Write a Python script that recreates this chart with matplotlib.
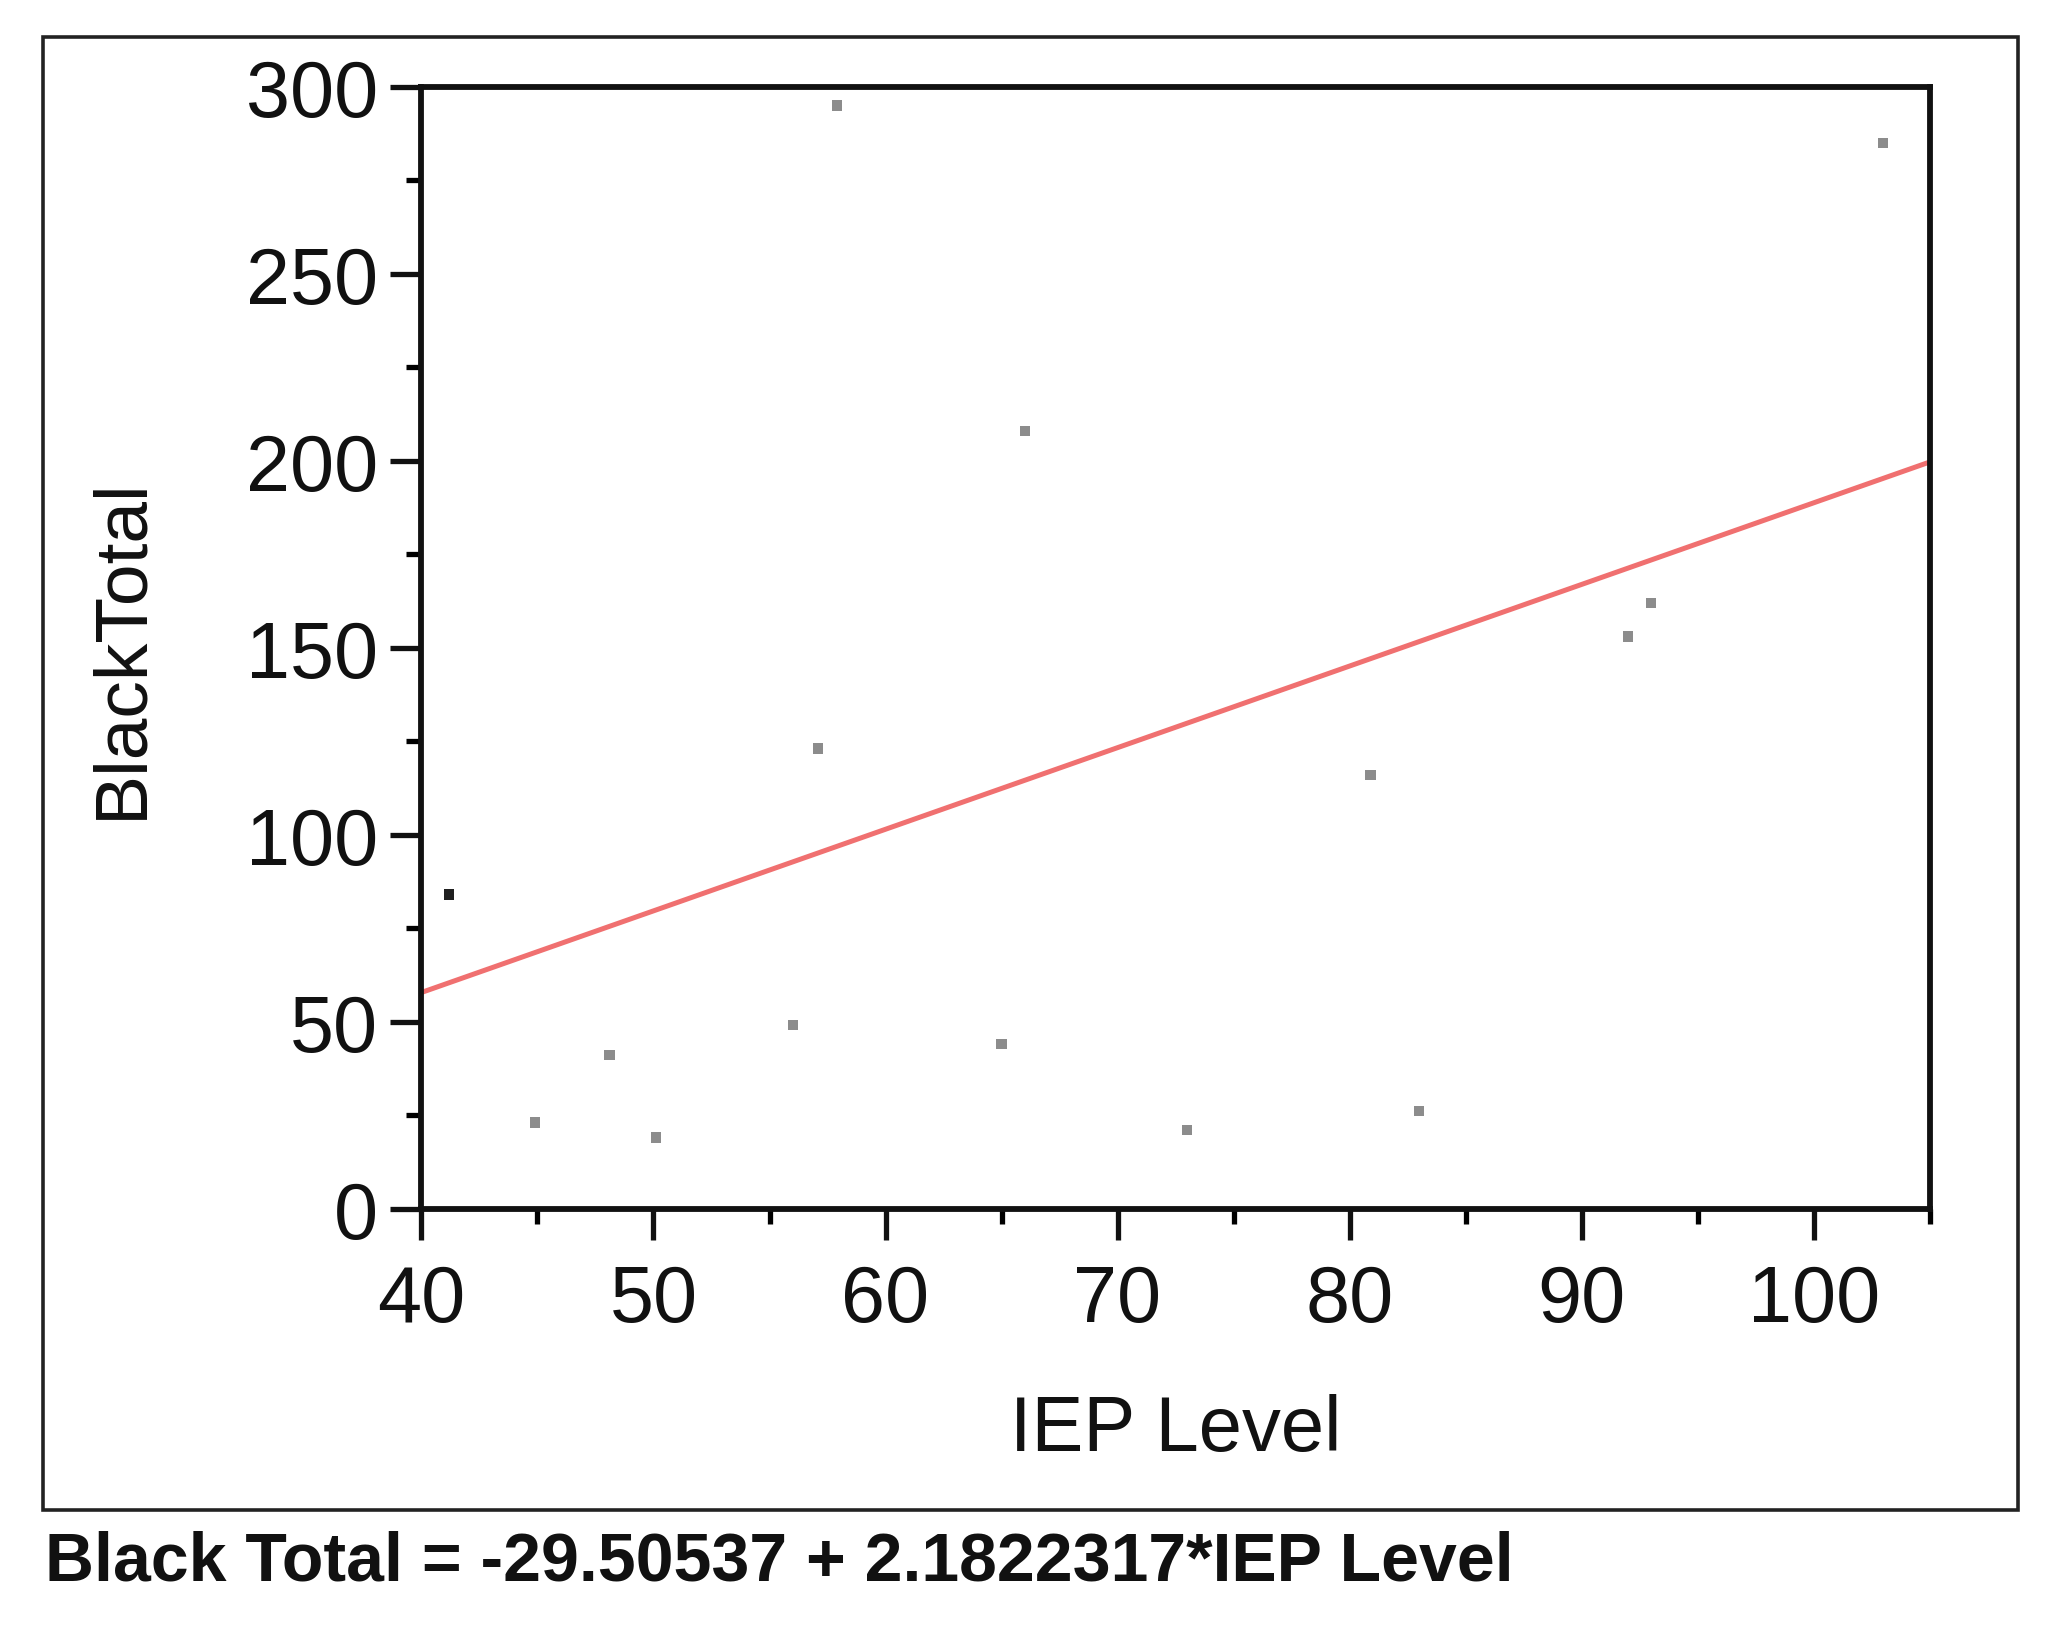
import numpy as np
import matplotlib
matplotlib.use("Agg")
import matplotlib.pyplot as plt
from matplotlib.patches import Rectangle

plt.rcParams['font.family'] = ['Liberation Sans', 'DejaVu Sans']

# data
iep_level = [41.2, 44.9, 48.1, 50.1, 56.0, 57.1, 57.9, 65.0, 66.0, 73.0, 80.9, 83.0, 92.0, 93.0, 103.0]
black_total = [84, 23, 41, 19, 49, 123, 295, 44, 208, 21, 116, 26, 153, 162, 285]
point_colors = ['#202020'] + ['#8c8c8c'] * 14

# fitted line
intercept = -29.50537
slope = 2.1822317

fig = plt.figure(figsize=(20.66, 16.33), dpi=100)
ax = fig.add_axes([0.204, 0.2593, 0.730, 0.687])

ax.scatter(iep_level, black_total, s=55, marker='s', c=point_colors, linewidths=0, zorder=3)

xfit = np.array([40, 105])
ax.plot(xfit, intercept + slope * xfit, color='#f07070', lw=3.6, zorder=2)

ax.set_xlim(40, 105)
ax.set_ylim(0, 300)
ax.set_xticks([40, 50, 60, 70, 80, 90, 100])
ax.set_xticks([45, 55, 65, 75, 85, 95, 105], minor=True)
ax.set_yticks([0, 50, 100, 150, 200, 250, 300])
ax.set_yticks([25, 75, 125, 175, 225, 275], minor=True)

ax.tick_params(which='major', length=22, width=3.8, labelsize=57, colors='#111111')
ax.tick_params(which='minor', length=11, width=3.8)
ax.tick_params(axis='x', which='major', pad=17)
ax.tick_params(axis='y', which='major', pad=9)
for sp in ax.spines.values():
    sp.set_linewidth(4.2)
    sp.set_color('#111111')

ax.set_xlabel('IEP Level', fontsize=56, labelpad=40, color='#111111')
ax.set_ylabel('BlackTotal', fontsize=54, labelpad=65, color='#111111')

# outer frame
fig.patches.append(Rectangle((0.021, 0.0747), 0.956, 0.902, transform=fig.transFigure,
                             fill=False, lw=2.6, edgecolor='#222222'))

fig.text(0.022, 0.043, 'Black Total = -29.50537 + 2.1822317*IEP Level',
         fontsize=49, fontweight='bold', va='center', ha='left', color='#111111')

fig.savefig('out.png', dpi=100)
